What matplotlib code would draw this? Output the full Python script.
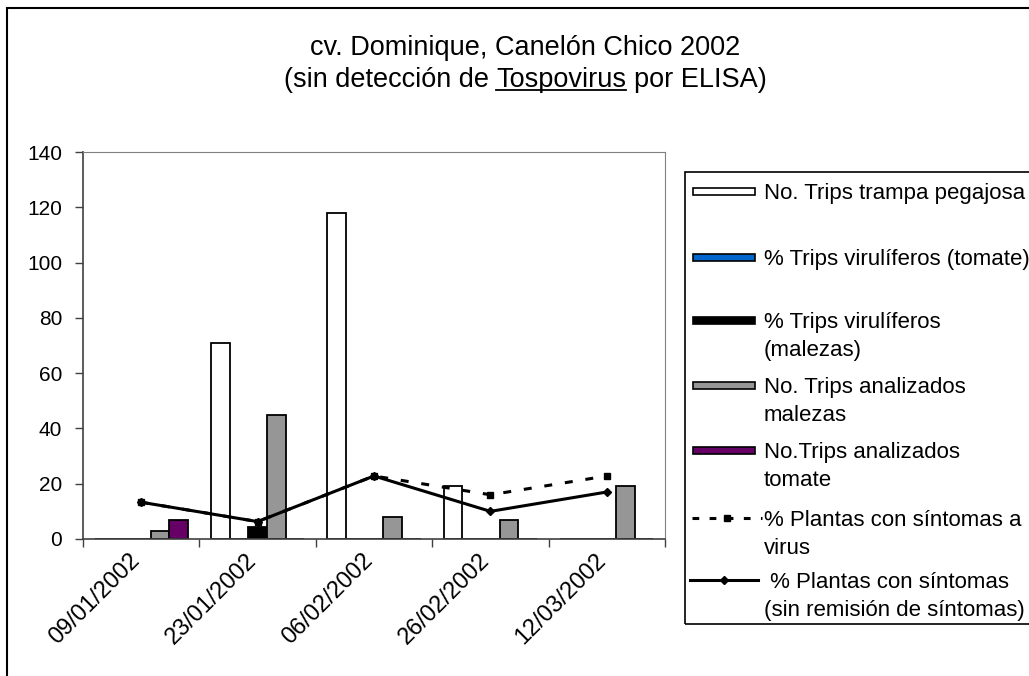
import numpy as np
import matplotlib
matplotlib.use("Agg")
import matplotlib.pyplot as plt
from matplotlib.patches import Rectangle
from matplotlib.lines import Line2D

plt.rcParams["font.family"] = ["Liberation Sans", "DejaVu Sans"]

fechas = ["09/01/2002", "23/01/2002", "06/02/2002", "26/02/2002", "12/03/2002"]

trips_trampa = [0, 71, 118, 19, 0]
trips_vir_tomate = [0, 0, 0, 0, 0]
trips_vir_malezas = [0, 4.3, 0, 0, 0]
trips_anal_malezas = [3, 45, 8, 7, 19]
trips_anal_tomate = [7, 0, 0, 0, 0]

plantas_sintomas = [13.3, 6.3, 22.8, 16, 22.8]
plantas_sin_remision = [13.3, 6.3, 22.8, 10, 17]

series_barras = [trips_trampa, trips_vir_tomate, trips_vir_malezas,
                 trips_anal_malezas, trips_anal_tomate]
colores = ["white", "#0066cc", "black", "#969696", "#660066"]
etiquetas_barras = [
    ["No. Trips trampa pegajosa"],
    ["% Trips virulíferos (tomate)"],
    ["% Trips virulíferos", "(malezas)"],
    ["No. Trips analizados", "malezas"],
    ["No.Trips analizados", "tomate"],
]
etiqueta_sintomas = ["% Plantas con síntomas a", "virus"]
etiqueta_remision = [" % Plantas con síntomas", "(sin remisión de síntomas)"]

W, H = 1029, 676
fig = plt.figure(figsize=(W / 100, H / 100), dpi=100)


def fx(px):
    return px / W


def fy(py):
    return 1 - py / H


# marco exterior del grafico
fig.add_artist(Rectangle((fx(7), fy(700)), fx(1100) - fx(7), fy(8.5) - fy(700),
                         transform=fig.transFigure, fill=False,
                         edgecolor="black", lw=1.5))

ax = fig.add_axes([fx(83), fy(539), (665 - 83) / W, (539 - 152) / H])

x = np.arange(len(fechas))
ancho = 0.16
for i, (vals, color) in enumerate(zip(series_barras, colores)):
    ax.bar(x + (i - 2) * ancho, vals, ancho, color=color,
           edgecolor="black", linewidth=1.3, zorder=2)

estilo_guiones = (0, (2.6, 4.2))
ax.plot(x, plantas_sintomas, color="black", lw=2.2, linestyle=estilo_guiones,
        marker="s", markersize=5, zorder=3)
ax.plot(x, plantas_sin_remision, color="black", lw=2.2,
        marker="D", markersize=4.5, zorder=4)

ax.set_xlim(-0.5, len(fechas) - 0.5)
ax.set_ylim(0, 140)
ax.set_yticks(range(0, 141, 20))
ax.set_xticks(np.arange(-0.5, len(fechas), 1))
ax.set_xticklabels([])
ax.set_xticks(x, minor=True)
ax.set_xticklabels(fechas, minor=True, rotation=45, ha="right", va="baseline",
                   rotation_mode="anchor", fontsize=17)
ax.tick_params(axis="x", which="minor", length=0, pad=16)
ax.tick_params(axis="x", which="major", length=6, width=1, color="#404040")
ax.tick_params(axis="y", length=6, width=1, pad=9, labelsize=15, color="#404040")

for lado in ["top", "right"]:
    ax.spines[lado].set_color("#808080")
for lado in ["left", "bottom"]:
    ax.spines[lado].set_color("#404040")
    ax.spines[lado].set_linewidth(1.2)

# titulo
fig.text(fx(525), fy(55), "cv. Dominique, Canelón Chico 2002",
         ha="center", va="baseline", fontsize=19.5)
partes = ["(sin detección de", "Tospovirus", "por ELISA)"]
textos = [fig.text(0, fy(87), p, ha="left", va="baseline", fontsize=19.5)
          for p in partes]
fig.canvas.draw()
rend = fig.canvas.get_renderer()
anchos = [t.get_window_extent(rend).width for t in textos]
espacio = 0.278 * 19.5 * 100 / 72
total = sum(anchos) + 2 * espacio
x0 = 525 - total / 2
for t, w in zip(textos, anchos):
    t.set_x(fx(x0))
    if t is textos[1]:
        fig.add_artist(Line2D([fx(x0), fx(x0 + w)], [fy(90), fy(90)],
                              transform=fig.transFigure, color="black", lw=1.3))
    x0 += w + espacio

# leyenda
fig.add_artist(Rectangle((fx(685), fy(624)), fx(1100) - fx(685), fy(172) - fy(624),
                         transform=fig.transFigure, fill=False,
                         edgecolor="black", lw=1.2))
filas = [191, 257, 320, 385, 450, 518, 580]
interlinea = 28


def texto_leyenda(yc, lineas):
    for k, linea in enumerate(lineas):
        fig.text(fx(764), fy(yc + 8 + k * interlinea), linea,
                 ha="left", va="baseline", fontsize=16)


for yc, color, lineas in zip(filas, colores, etiquetas_barras):
    fig.add_artist(Rectangle((fx(693), fy(yc + 3.5)), fx(755) - fx(693), 7 / H,
                             transform=fig.transFigure, facecolor=color,
                             edgecolor="black", lw=1.2))
    texto_leyenda(yc, lineas)

fig.add_artist(Line2D([fx(692), fx(762)], [fy(filas[5])] * 2,
                      transform=fig.transFigure, color="black", lw=2.2,
                      linestyle=(0, (2.2, 3.4))))
fig.add_artist(Line2D([fx(727)], [fy(filas[5])], transform=fig.transFigure,
                      color="black", marker="s", markersize=5, linestyle="none"))
texto_leyenda(filas[5], etiqueta_sintomas)

fig.add_artist(Line2D([fx(690), fx(758)], [fy(filas[6])] * 2,
                      transform=fig.transFigure, color="black", lw=2.2))
fig.add_artist(Line2D([fx(724)], [fy(filas[6])], transform=fig.transFigure,
                      color="black", marker="D", markersize=4.5, linestyle="none"))
texto_leyenda(filas[6], etiqueta_remision)

fig.savefig("out.png", dpi=100)
